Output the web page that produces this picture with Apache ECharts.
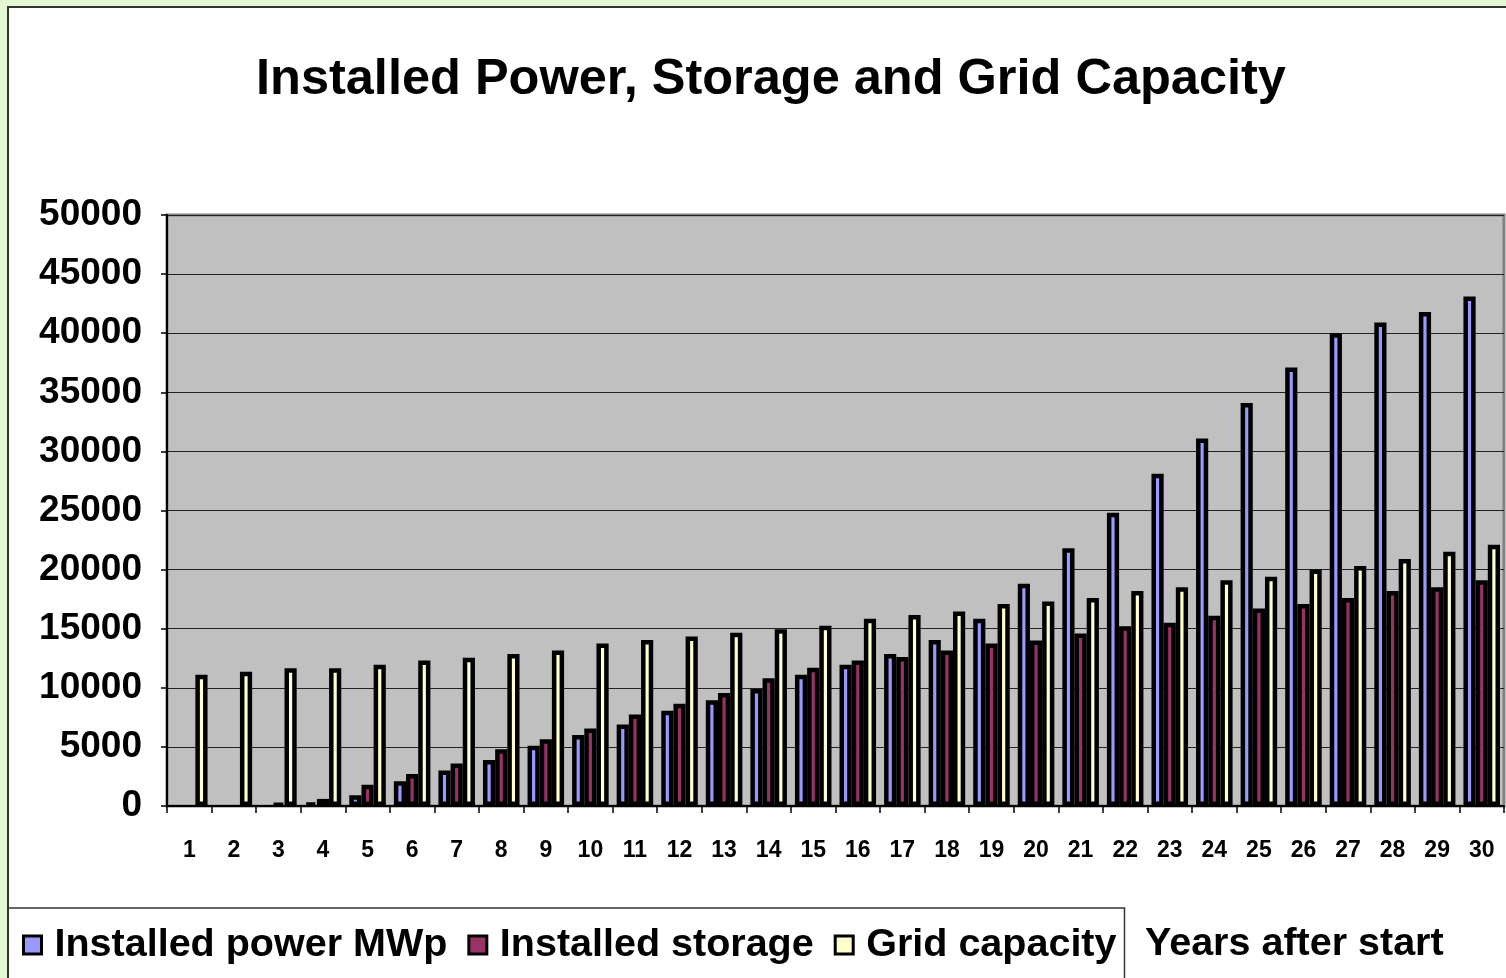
<!DOCTYPE html>
<html>
<head>
<meta charset="utf-8">
<title>Installed Power, Storage and Grid Capacity</title>
<script src="https://cdn.jsdelivr.net/npm/echarts@6/dist/echarts.min.js"></script>
<style>
  html, body { margin: 0; padding: 0; }
  #chart { width: 1506px; height: 978px; }
</style>
</head>
<body>
<div id="chart"></div>
<script>
  var years = ['1','2','3','4','5','6','7','8','9','10','11','12','13','14','15',
               '16','17','18','19','20','21','22','23','24','25','26','27','28','29','30'];
  // installed power MWp (null = no bar drawn in the first years)
  var power = [null, null, null, 250, 900, 2100, 3000, 3900, 5100, 6000, 6900, 8050, 8950, 9900, 11100,
               11950, 12850, 14050, 15850, 18800, 21800, 24800, 28100, 31100, 34100, 37100, 40000, 40900, 41800, 43100];
  var storage = [null, null, 200, 600, 1800, 2700, 3600, 4800, 5650, 6550, 7750, 8650, 9550, 10800, 11700,
                 12300, 12600, 13150, 13750, 14000, 14600, 15200, 15500, 16100, 16700, 17100, 17600, 18200, 18500, 19100];
  var gridCap = [11100, 11350, 11650, 11650, 11950, 12300, 12550, 12850, 13150, 13750, 14050, 14350, 14650, 14950, 15250,
                 15850, 16150, 16450, 17100, 17300, 17600, 18200, 18500, 19100, 19400, 20000, 20300, 20900, 21500, 22100];

  var font = '"Liberation Sans", Arial, sans-serif';

  var myChart = echarts.init(document.getElementById('chart'));

  function barSeries(name, data, color) {
    return {
      name: name,
      type: 'bar',
      data: data,
      barGap: 0,
      barCategoryGap: '18%',
      itemStyle: {
        color: color,
        borderColor: '#000',
        borderWidth: 4.5
      }
    };
  }

  myChart.setOption({
    animation: false,
    backgroundColor: '#e3f7d3',
    textStyle: { fontFamily: font },
    graphic: [
      {
        type: 'rect',
        z: -10,
        silent: true,
        shape: { x: 8, y: 7, width: 1700, height: 1200 },
        style: { fill: '#fff', stroke: '#333', lineWidth: 2 }
      },
      {
        type: 'text',
        left: 1145,
        top: 924,
        silent: true,
        style: {
          text: 'Years after start',
          font: 'bold 39.5px ' + font,
          fill: '#000'
        }
      }
    ],
    title: {
      text: 'Installed Power, Storage and Grid Capacity',
      left: 256,
      top: 55,
      padding: 0,
      textStyle: { fontSize: 50.5, fontWeight: 'bold', color: '#000', fontFamily: font }
    },
    legend: {
      left: 8,
      top: 908,
      padding: [17, 8, 40, 14],
      itemGap: 20,
      itemWidth: 18,
      itemHeight: 18,
      borderColor: '#333',
      borderWidth: 1.5,
      icon: 'rect',
      itemStyle: { borderColor: '#000', borderWidth: 3 },
      textStyle: { fontSize: 39.5, fontWeight: 'bold', color: '#000', fontFamily: font, padding: [0, 0, 0, 8] },
      data: ['Installed power MWp', 'Installed storage', 'Grid capacity']
    },
    grid: {
      left: 167,
      top: 215,
      right: 2,
      bottom: 172,
      show: true,
      backgroundColor: '#c0c0c0',
      borderColor: '#808080',
      borderWidth: 3
    },
    xAxis: {
      type: 'category',
      data: years,
      axisLine: { lineStyle: { color: '#000', width: 2 } },
      axisTick: { show: true, length: 7, lineStyle: { color: '#000', width: 1.5 } },
      axisLabel: { margin: 33, fontSize: 23, fontWeight: 'bold', color: '#000', fontFamily: font },
      splitLine: { show: false }
    },
    yAxis: {
      type: 'value',
      min: 0,
      max: 50000,
      interval: 5000,
      axisLine: { show: true, lineStyle: { color: '#000', width: 2 } },
      axisTick: { show: true, length: 6, lineStyle: { color: '#000', width: 1.5 } },
      axisLabel: {
        margin: 25, fontSize: 37, fontWeight: 'bold', color: '#000', fontFamily: font,
        formatter: function (v) { return String(v); }
      },
      splitLine: { show: true, lineStyle: { color: '#222', width: 1.2 } }
    },
    series: [
      barSeries('Installed power MWp', power, '#9999ff'),
      barSeries('Installed storage', storage, '#993366'),
      barSeries('Grid capacity', gridCap, '#ffffcc')
    ]
  });
</script>
</body>
</html>
